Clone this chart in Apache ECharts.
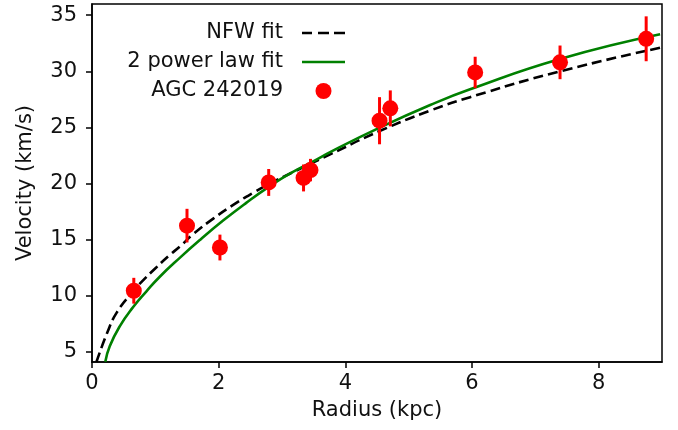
<!DOCTYPE html>
<html>
<head>
	<meta charset="UTF-8">
	<title>AGC 242019 rotation curve</title>
	<script src="https://cdn.jsdelivr.net/npm/echarts@6/dist/echarts.min.js"></script>
	<style>
		html, body { margin: 0; padding: 0; background: #fff; }
		#chart { width: 678px; height: 430px; }
	</style>
</head>
<body>
	<div id="chart"></div>
	<script>
		// observed points (radius kpc, velocity km/s, error)
		var obsR = [0.66, 1.50, 2.02, 2.79, 3.34, 3.45, 4.54, 4.71, 6.05, 7.39, 8.75];
		var obsV = [10.45, 16.25, 14.3, 20.1, 20.5, 21.2, 25.6, 26.7, 29.9, 30.8, 32.9];
		var obsErr = [1.15, 1.5, 1.15, 1.2, 1.2, 1.0, 2.1, 1.6, 1.4, 1.5, 2.0];

		// NFW fit
		var nfwR = [0.07, 0.24, 0.39, 0.65, 0.81, 1.01, 1.22, 1.39, 1.60, 1.92, 2.23, 2.55, 2.81, 3.13, 3.76, 4.55, 5.34, 5.97, 7.39, 8.97];
		var nfwV = [4.1, 6.7, 8.5, 10.4, 11.4, 12.5, 13.6, 14.4, 15.5, 16.9, 18.1, 19.2, 20.0, 20.9, 22.6, 24.7, 26.5, 27.7, 30.0, 32.1];

		// 2 power law fit
		var plR = [0.21, 0.28, 0.44, 0.65, 0.86, 1.07, 1.39, 1.71, 2.07, 2.44, 2.79, 3.13, 3.50, 3.76, 4.55, 5.34, 5.97, 7.39, 8.97];
		var plV = [4.13, 5.5, 7.3, 9.0, 10.4, 11.7, 13.4, 15.0, 16.7, 18.3, 19.7, 20.9, 22.0, 22.8, 25.0, 27.0, 28.4, 31.1, 33.3];

		var xTicks = [0, 2, 4, 6, 8];
		var yTicks = [5, 10, 15, 20, 25, 30, 35];

		function zip(a, b) {
			var out = [];
			for (var i = 0; i < a.length; i++) out.push([a[i], b[i]]);
			return out;
		}
		var errData = [];
		for (var i = 0; i < obsR.length; i++) {
			errData.push([obsR[i], obsV[i] - obsErr[i], obsV[i] + obsErr[i]]);
		}

		var font = 'DejaVu Sans';
		// legend handles drawn like matplotlib's (dashes / plain line)
		var dashIcon = 'path://M0,0h10v2.6h-10z M16,0h11v2.6h-11z M32,0h11v2.6h-11z';
		var lineIcon = 'path://M0,0h43v2.6h-43z';

		var chart = echarts.init(document.getElementById('chart'), null, { renderer: 'canvas' });
		chart.setOption({
			animation: false,
			backgroundColor: '#fff',
			textStyle: { fontFamily: font },
			grid: {
				left: 92, right: 16, top: 4, bottom: 68,
				show: true, borderColor: '#000', borderWidth: 1.5
			},
			legend: {
				orient: 'vertical',
				align: 'right',
				right: 333,
				top: 22,
				padding: 0,
				itemWidth: 43,
				itemHeight: 16,
				itemGap: 7,
				textStyle: { fontFamily: font, fontSize: 21, color: '#111', lineHeight: 22, padding: [0, 14, 0, 0] },
				data: [
					{ name: 'NFW fit', icon: dashIcon },
					{ name: '2 power law fit', icon: lineIcon },
					{ name: 'AGC 242019', icon: 'circle' }
				]
			},
			xAxis: {
				type: 'value', min: 0, max: 9,
				name: 'Radius (kpc)', nameLocation: 'middle', nameGap: 38,
				nameTextStyle: { fontFamily: font, fontSize: 21, color: '#111' },
				axisLine: { lineStyle: { color: '#000', width: 1.5 } },
				axisTick: { show: true, length: 6, lineStyle: { color: '#000', width: 1.5 }, customValues: xTicks },
				axisLabel: { fontFamily: font, fontSize: 21, color: '#111', margin: 11, customValues: xTicks },
				splitLine: { show: false }
			},
			yAxis: {
				type: 'value', min: 4.1, max: 36,
				name: 'Velocity (km/s)', nameLocation: 'middle', nameGap: 56,
				nameTextStyle: { fontFamily: font, fontSize: 21, color: '#111' },
				axisLine: { show: true, lineStyle: { color: '#000', width: 1.5 } },
				axisTick: { show: true, length: 6, lineStyle: { color: '#000', width: 1.5 }, customValues: yTicks },
				axisLabel: { fontFamily: font, fontSize: 21, color: '#111', margin: 15, customValues: yTicks },
				splitLine: { show: false }
			},
			series: [
				{
					name: 'NFW fit', type: 'line', smooth: true, symbol: 'none',
					data: zip(nfwR, nfwV), clip: true, z: 3,
					lineStyle: { color: '#000', width: 2.6, type: [10, 5] },
					itemStyle: { color: '#000' }
				},
				{
					name: '2 power law fit', type: 'line', smooth: true, symbol: 'none',
					data: zip(plR, plV), clip: true, z: 3,
					lineStyle: { color: '#008000', width: 2.6 },
					itemStyle: { color: '#008000' }
				},
				{
					name: 'errors', type: 'custom', z: 4,
					data: errData,
					renderItem: function (params, api) {
						var lo = api.coord([api.value(0), api.value(1)]);
						var hi = api.coord([api.value(0), api.value(2)]);
						return {
							type: 'line',
							shape: { x1: lo[0], y1: lo[1], x2: hi[0], y2: hi[1] },
							style: { stroke: '#ff0000', lineWidth: 3 }
						};
					}
				},
				{
					name: 'AGC 242019', type: 'scatter', symbol: 'circle', symbolSize: 16, z: 5,
					data: zip(obsR, obsV),
					itemStyle: { color: '#ff0000', opacity: 1 }
				}
			]
		});
	</script>
</body>
</html>
